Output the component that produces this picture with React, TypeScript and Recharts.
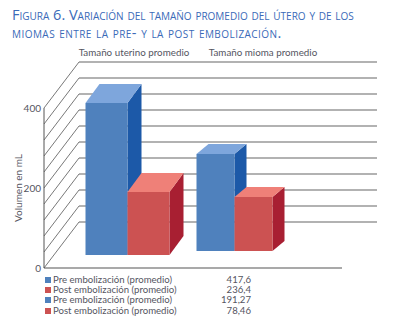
import { Bar, BarChart, CartesianGrid, XAxis, YAxis } from "recharts";

const categories = ["Tamaño uterino promedio", "Tamaño mioma promedio"];
const preValues = [380, 242.5];
const postValues = [157.5, 135];
const yTicks = [0, 40, 80, 120, 160, 200, 240, 280, 320, 360, 400];
const labelledTicks = [0, 200, 400];

const legendLabels = [
  "Pre embolización (promedio)",
  "Post embolización (promedio)",
  "Pre embolización (promedio)",
  "Post embolización (promedio)",
];
const legendValues = ["417,6", "236,4", "191,27", "78,46"];

const chartData = categories.map((name, i) => ({
  name,
  pre: preValues[i],
  post: postValues[i],
}));

const FONT = "Lato, sans-serif";
const TEXT = "#55555f";
const BLUE = { front: "#4f81bd", top: "#7ea6dc", side: "#1c59a8" };
const RED = { front: "#cc5252", top: "#ef8078", side: "#a81f32" };
const WALL = { dx: 35, dy: -46 };
// the fake perspective is not the same for both groups in the picture
const LOOK = [
  { lift: 13, width: 42, dx: 14, dy: -19 },
  { lift: 17, width: 38, dx: 12, dy: -10 },
];

function box(colors: typeof BLUE, side: "left" | "right") {
  return (props: any) => {
    const { x, y, width, height, index } = props;
    const look = LOOK[index];
    const l = side === "left" ? x + width - look.width : x;
    const r = l + look.width;
    const t = y - look.lift;
    const b = t + height;
    const { dx, dy } = look;
    return (
      <g>
        <polygon
          points={`${r},${t} ${r + dx},${t + dy} ${r + dx},${b + dy} ${r},${b}`}
          fill={colors.side}
        />
        <polygon
          points={`${l},${t} ${l + dx},${t + dy} ${r + dx},${t + dy} ${r},${t}`}
          fill={colors.top}
        />
        <rect x={l} y={t} width={look.width} height={height} fill={colors.front} />
      </g>
    );
  };
}

const wallLine = (props: any) => {
  const { x1, x2, y1 } = props;
  return (
    <g key={`wall-${y1}`}>
      <line
        x1={x1}
        y1={y1}
        x2={x1 + WALL.dx}
        y2={y1 + WALL.dy}
        stroke="#555"
        strokeWidth={0.8}
      />
      <line
        x1={x1 + WALL.dx}
        y1={y1 + WALL.dy}
        x2={x2 + WALL.dx}
        y2={y1 + WALL.dy}
        stroke="#666"
        strokeWidth={1.1}
      />
    </g>
  );
};

export default function App() {
  return (
    <div style={{ position: "absolute", left: 0, top: 0, width: 393, height: 322, fontFamily: FONT }}>
      <div
        style={{
          position: "absolute",
          left: 12,
          top: 6,
          width: 370,
          color: "#3a6ab8",
          fontVariant: "small-caps",
          fontFamily: "'Open Sans', sans-serif",
          fontSize: 14.5,
          lineHeight: "18px",
          whiteSpace: "nowrap",
        }}
      >
        Figura 6. Variación del tamaño promedio del útero y de los
        <br />
        <span style={{ letterSpacing: 0.45 }}>miomas entre la pre- y la post embolización.</span>
      </div>

      <BarChart
        width={393}
        height={322}
        data={chartData}
        margin={{ top: 107, right: 51, bottom: 53, left: 43 }}
        barGap={0}
      >
        <CartesianGrid vertical={false} horizontal={wallLine} syncWithTicks />
        <XAxis
          xAxisId="bars"
          dataKey="name"
          height={1}
          tick={false}
          tickLine={false}
          padding={{ left: 29.5, right: 54.5 }}
          axisLine={{ stroke: "#555", strokeWidth: 1.2 }}
        />
        <XAxis
          xAxisId="names"
          dataKey="name"
          orientation="top"
          height={1}
          interval={0}
          tickLine={false}
          axisLine={false}
          tickMargin={46}
          padding={{ left: 25.5, right: 14.5 }}
          tick={{ fontSize: 9.8, fill: TEXT, fontFamily: FONT }}
        />
        <YAxis
          width={1}
          domain={[0, 400]}
          ticks={yTicks}
          interval={0}
          tickLine={false}
          tickSize={0}
          tickMargin={3}
          tickFormatter={(v: number) => (labelledTicks.includes(v) ? String(v) : "")}
          axisLine={{ stroke: "#555", strokeWidth: 1 }}
          tick={{ fontSize: 10, fill: TEXT, fontFamily: FONT }}
          label={{
            value: "Volumen en mL",
            angle: -90,
            position: "left",
            offset: 25,
            textAnchor: "middle",
            style: { fontSize: 10, fill: TEXT, fontFamily: FONT },
          }}
        />
        <Bar
          xAxisId="bars"
          dataKey="pre"
          barSize={40}
          isAnimationActive={false}
          shape={box(BLUE, "left")}
        />
        <Bar
          xAxisId="bars"
          dataKey="post"
          barSize={40}
          isAnimationActive={false}
          shape={box(RED, "right")}
        />
      </BarChart>

      {legendLabels.map((label, i) => (
        <div
          key={i}
          style={{
            position: "absolute",
            left: 45,
            top: 275 + i * 10.2,
            width: 206,
            height: 10,
            fontSize: 9.6,
            lineHeight: "10px",
            color: TEXT,
            whiteSpace: "nowrap",
          }}
        >
          <span
            style={{
              position: "absolute",
              left: 0,
              top: 2,
              width: 6,
              height: 6,
              background: i % 2 === 0 ? BLUE.front : RED.front,
            }}
          />
          <span style={{ position: "absolute", left: 8, top: 0 }}>{label}</span>
          <span style={{ position: "absolute", right: 0, top: 0 }}>{legendValues[i]}</span>
        </div>
      ))}
    </div>
  );
}
